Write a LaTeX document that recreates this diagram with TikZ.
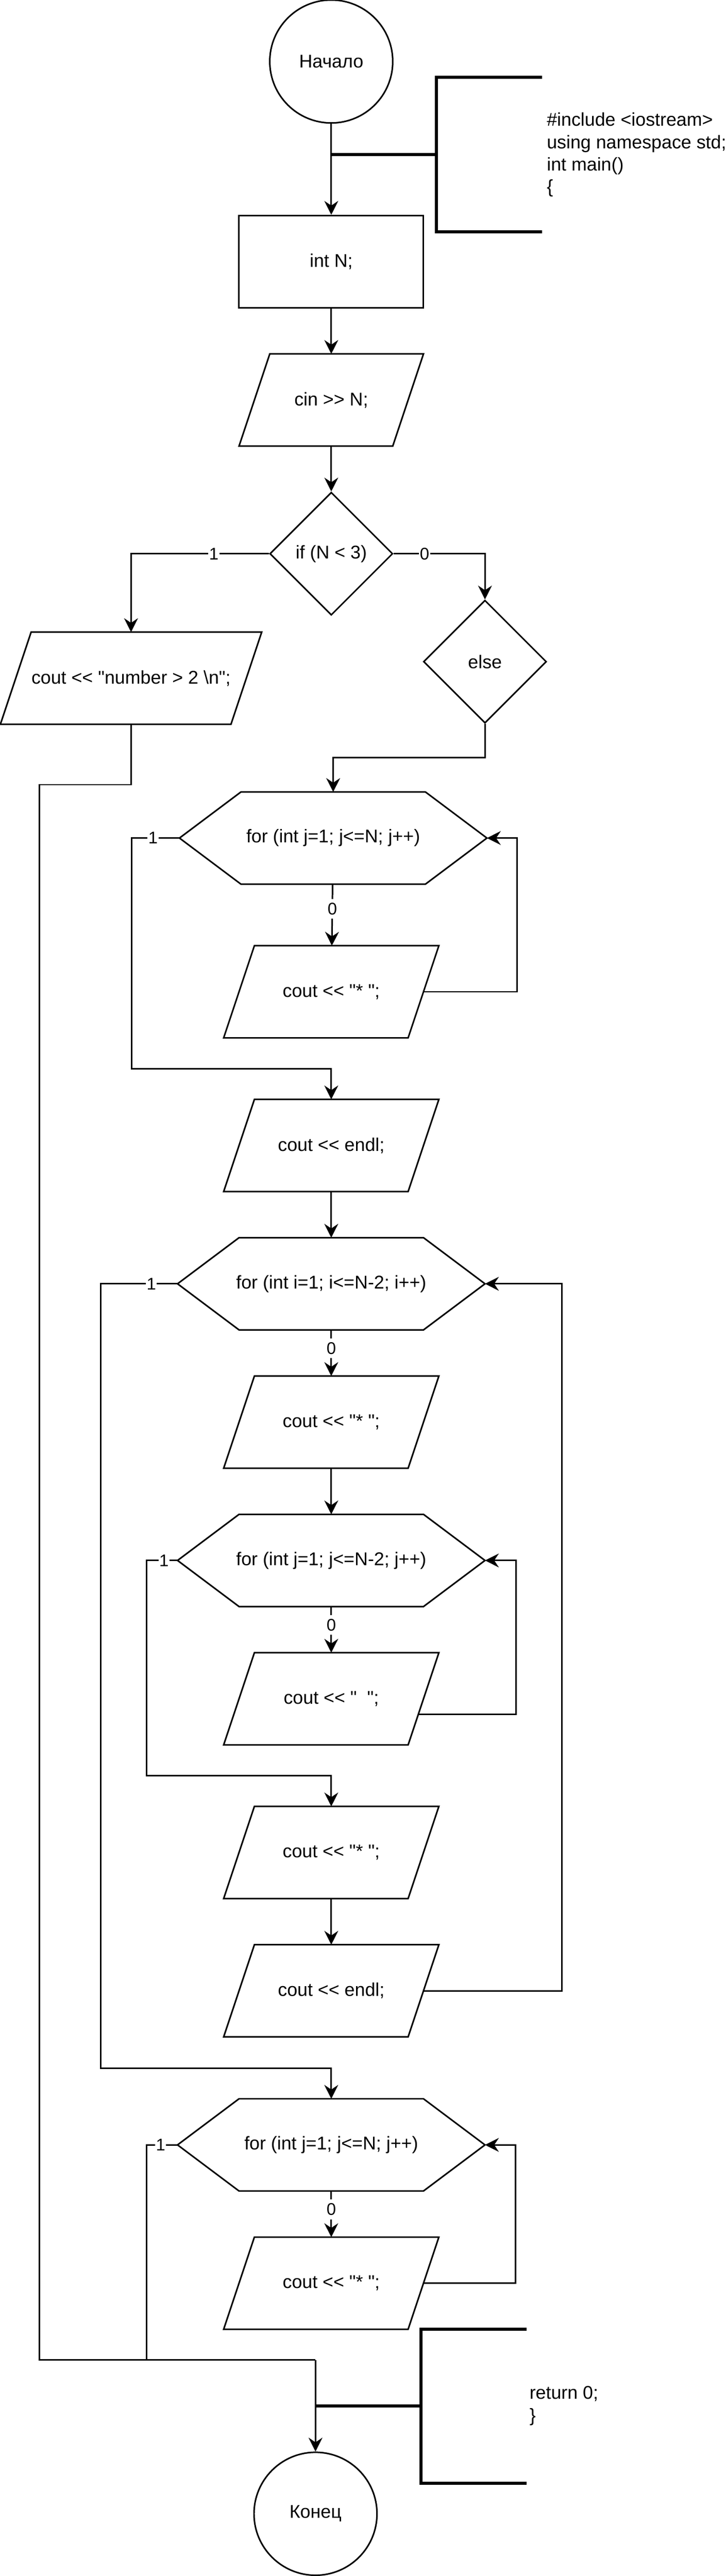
\documentclass[tikz,border=0pt]{standalone}
\usepackage{fontspec}
\setmainfont{Liberation Sans}[Ligatures=TeXOff]
\usetikzlibrary{arrows.meta,shapes.geometric}
\newcommand{\hexout}[1]{\draw ([xshift=40]#1.north west) -- ([xshift=-40]#1.north east) -- (#1.east) -- ([xshift=-40]#1.south east) -- ([xshift=40]#1.south west) -- (#1.west) -- cycle;}
\newcommand{\ioout}[1]{\draw ([xshift=20]#1.north west) -- (#1.north east) -- ([xshift=-20]#1.south east) -- (#1.south west) -- cycle;}
\begin{document}
\begin{tikzpicture}[x=1pt,y=-1pt,line width=1pt,
    every node/.style={font=\fontsize{12}{14.5}\selectfont},
    term/.style={circle,draw,minimum size=80,inner sep=0pt},
    proc/.style={rectangle,draw,minimum width=120,minimum height=60},
    io/.style={rectangle,minimum width=#1,minimum height=60,inner sep=0pt,outer sep=0pt},
    io/.default=140,
    cond/.style={diamond,draw,minimum size=80,inner sep=0pt},
    forbox/.style={rectangle,minimum width=200,minimum height=60,inner sep=0pt,outer sep=0pt},
    lbl/.style={fill=white,inner xsep=0.5pt,inner ysep=2.5pt,font=\fontsize{11}{11}\selectfont},
    arr/.style={-{Stealth[length=9pt,width=9pt,inset=3pt]}},
    brk/.style={line width=2pt},
    note/.style={anchor=west,align=left,inner sep=0pt}]
    \useasboundingbox (0,0) rectangle (472,1676);
    \node[term] (start) at (215.5,40) {Начало};
    \node[proc] (intN) at (215.5,170.25) {int N;};
    \node[io=120] (cin) at (215.5,260.25) {cin >> N;};
    \node[cond] (ifN) at (215.5,360.25) {if (N < 3)};
    \node[io=170] (num) at (85.25,441.25) {cout << "number > 2 \textbackslash n";};
    \node[cond] (els) at (315.5,430.5) {else};
    \node[forbox] (for1) at (216.75,545.25) {for (int j=1; j<=N; j++)};
    \node[io] (star1) at (215.5,645.25) {cout << "* ";};
    \node[io] (endl1) at (215.5,745.25) {cout << endl;};
    \node[forbox] (fori) at (215.5,835.25) {for (int i=1; i<=N-2; i++)};
    \node[io] (star2) at (215.5,925.25) {cout << "* ";};
    \node[forbox] (forj) at (215.5,1015.25) {for (int j=1; j<=N-2; j++)};
    \node[io] (sp) at (215.5,1105.25) {cout << "\ \ ";};
    \node[io] (star3) at (215.5,1205.25) {cout << "* ";};
    \node[io] (endl2) at (215.5,1295.25) {cout << endl;};
    \node[forbox] (for3) at (215.5,1395.5) {for (int j=1; j<=N; j++)};
    \node[io] (star4) at (215.5,1485.5) {cout << "* ";};
    \node[term] (end) at (205.25,1635.5) {Конец};
    \coordinate (join) at (205.25,1535.5);
    \coordinate (b1) at (283.75,100.5);
    \coordinate (b2) at (274,1565.5);
    \ioout{cin} \ioout{num} \ioout{star1} \ioout{endl1} \ioout{star2}
    \ioout{sp} \ioout{star3} \ioout{endl2} \ioout{star4}
    \hexout{for1} \hexout{fori} \hexout{forj} \hexout{for3}
    \draw[brk] ([shift={(69,-50.25)}]b1) -| ([yshift=-50.25pt]b1) -- ++(69,0);
    \draw[brk] (start |- b1) -- (b1);
    \node[note] (code1) at (355.25,100.75) {\#include <iostream>\\using namespace std;\\int main()\\\{};
    \draw[brk] ([shift={(68.5,-50)}]b2) -| ([yshift=-50pt]b2) -- ++(68.5,0);
    \draw[brk] (join |- b2) -- (b2);
    \node[note] (code2) at (344,1565.25) {return 0;\\\}};
    \draw[arr] (start) -- (intN);
    \draw[arr] (intN) -- (cin);
    \draw[arr] (cin) -- (ifN);
    \draw[arr] (ifN.west) -| node[lbl,pos=0.2]{1} (num.north);
    \draw[arr] (ifN.east) -| node[lbl,pos=0.17]{0} (els.north);
    \draw[arr] (els.south) |- ([yshift=22.5pt]for1.north) -- (for1.north);
    \draw (num.south) -- ++(0,39.25) -- ++(-59.75,0) |- (join);
    \draw[arr] (for1) -- node[lbl,pos=0.4]{0} (star1);
    \draw[arr] ([xshift=-10pt]star1.east) -- ++(61,0) |- (for1.east);
    \draw[arr] (for1.west) -- node[lbl,pos=0.55]{1} ++(-31.25,0) |- ([yshift=20pt]endl1.north) -- (endl1.north);
    \draw[arr] (endl1) -- (fori);
    \draw[arr] (fori) -- node[lbl,pos=0.4]{0} (star2);
    \draw[arr] (star2) -- (forj);
    \draw[arr] (forj) -- node[lbl,pos=0.4]{0} (sp);
    \draw[arr] ([xshift=-13.3pt,yshift=-10pt]sp.east) -- ++(63.5,0) |- (forj.east);
    \draw[arr] (forj.west) -- node[lbl,pos=0.44]{1} ++(-20,0) |- ([yshift=20pt]star3.north) -- (star3.north);
    \draw[arr] (star3) -- (endl2);
    \draw[arr] ([xshift=-10pt]endl2.east) -- ++(90,0) |- (fori.east);
    \draw[arr] (fori.west) -- node[lbl,pos=0.34]{1} ++(-50,0) |- ([yshift=20pt]for3.north) -- (for3.north);
    \draw[arr] (for3) -- node[lbl,pos=0.4]{0} (star4);
    \draw[arr] ([xshift=-10pt]star4.east) -- ++(60,0) |- (for3.east);
    \draw (for3.west) -- node[lbl,pos=0.55]{1} ++(-20,0) |- (join);
    \draw[arr] (join) -- (end.north);
\end{tikzpicture}
\end{document}
